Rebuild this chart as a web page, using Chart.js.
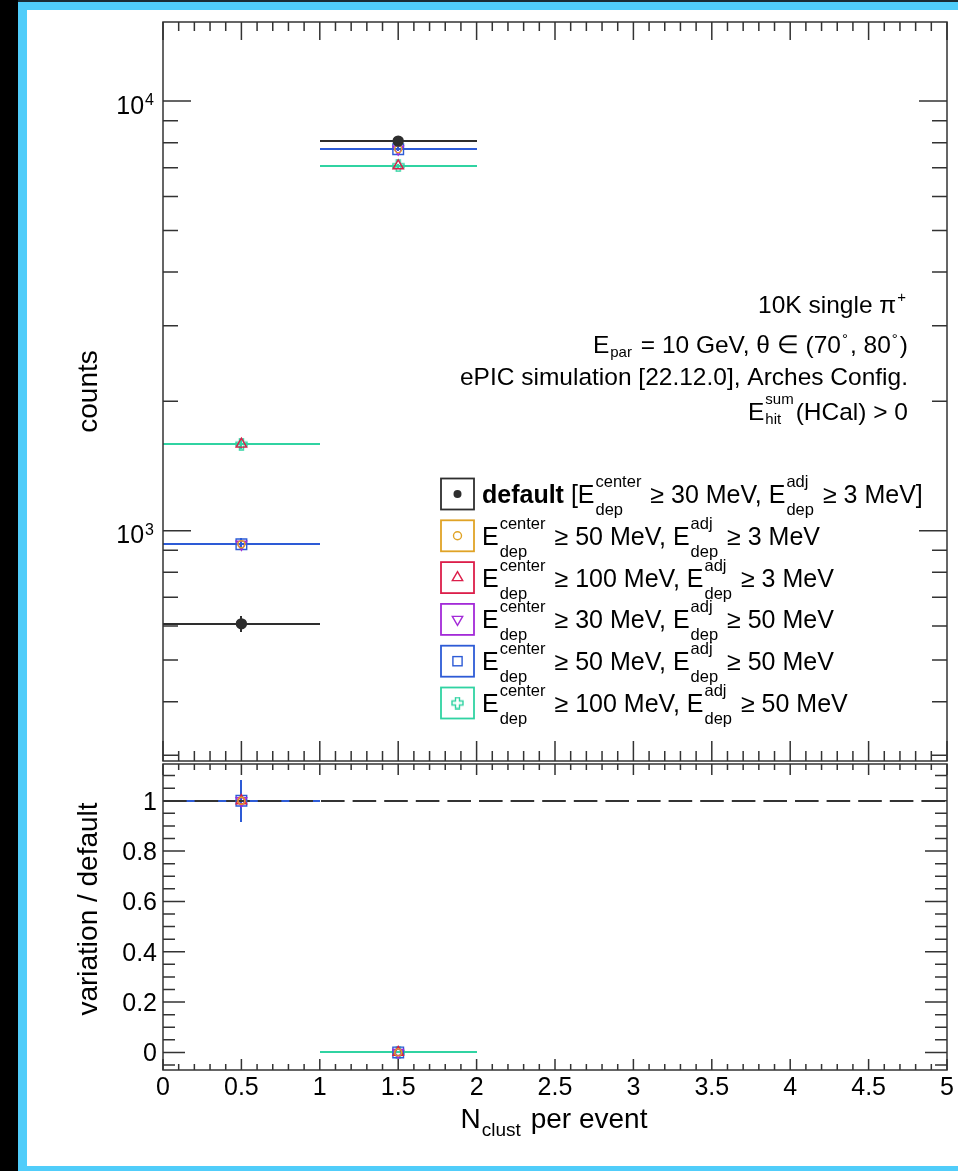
<!DOCTYPE html>
<html>
<head>
<meta charset="utf-8">
<script src="https://cdn.jsdelivr.net/npm/chart.js@4.4.1/dist/chart.umd.min.js"></script>
<style>
  html, body { margin: 0; padding: 0; background: #fff; }
  #page { position: relative; width: 958px; height: 1171px; background: #fff; overflow: hidden; }
  .edge { position: absolute; }
  canvas { position: absolute; left: 0; }
</style>
</head>
<body>
<div id="page">
  <div class="edge" style="left:0;top:0;width:18px;height:1171px;background:#000"></div>
  <div class="edge" style="left:18px;top:0;width:940px;height:2px;background:#1c2b33"></div>
  <div class="edge" style="left:18px;top:2px;width:940px;height:8px;background:#50cdfa"></div>
  <div class="edge" style="left:18px;top:2px;width:9px;height:1169px;background:#50cdfa"></div>
  <div class="edge" style="left:18px;top:1166px;width:940px;height:5px;background:#50cdfa"></div>
  <canvas id="top" width="958" height="763" style="top:0"></canvas>
  <canvas id="ratio" width="958" height="408" style="top:763px"></canvas>
</div>
<script>
// ------------------ data ------------------
// N_clust bins [0,1) and [1,2)
const binCenters = [0.5, 1.5];
const binLow = [0, 1];
const binHigh = [1, 2];

// counts per bin, one array per threshold setting
const countsDefault = [607, 8070];
const counts50_3 = [930, 7730];
const counts100_3 = [1590, 7070];
const counts30_50 = [930, 7730];
const counts50_50 = [930, 7730];
const counts100_50 = [1590, 7070];

const errDefault = [25, 90];
const err50_3 = [30, 88];
const err100_3 = [40, 84];
const err30_50 = [30, 88];
const err50_50 = [30, 88];
const err100_50 = [40, 84];

// variation / default
const ratio50_3 = [1, 0];
const ratio100_3 = [1, 0];
const ratio30_50 = [1, 0];
const ratio50_50 = [1, 0];
const ratio100_50 = [null, 0];
const ratioErr = [0.083, 0];

// axes
const xMajorTicks = [0, 0.5, 1, 1.5, 2, 2.5, 3, 3.5, 4, 4.5, 5];
const xTickLabels = ['0', '0.5', '1', '1.5', '2', '2.5', '3', '3.5', '4', '4.5', '5'];
const countDecades = [1000, 10000];
const countDecadeExp = ['3', '4'];
const ratioMajorTicks = [0, 0.2, 0.4, 0.6, 0.8, 1];
const ratioTickLabels = ['0', '0.2', '0.4', '0.6', '0.8', '1'];

const countsMin = 291, countsMax = 15280;
const ratioMin = -0.07, ratioMax = 1.146;

// ------------------ styles ------------------
const FONT = '"Liberation Sans", Arial, Helvetica, sans-serif';
const INK = '#333333';

function font(size, bold) { return (bold ? 'bold ' : '') + size + 'px ' + FONT; }

function openCross(color) {
  const s = 13, a = 4.5, b = 8.5, m = 1;
  const c = document.createElement('canvas');
  c.width = s; c.height = s;
  const g = c.getContext('2d');
  g.strokeStyle = color; g.lineWidth = 1.4;
  g.beginPath();
  g.moveTo(a, m); g.lineTo(b, m); g.lineTo(b, a); g.lineTo(s - m, a); g.lineTo(s - m, b);
  g.lineTo(b, b); g.lineTo(b, s - m); g.lineTo(a, s - m); g.lineTo(a, b); g.lineTo(m, b);
  g.lineTo(m, a); g.lineTo(a, a); g.closePath();
  g.stroke();
  return c;
}

const series = [
  { key: 'default', color: '#2e2e2e', counts: countsDefault, err: errDefault, ratio: null,
    marker: 'circle', radius: 5, filled: true, legendRadius: 4 },
  { key: '50_3', color: '#e0a326', counts: counts50_3, err: err50_3, ratio: ratio50_3,
    marker: 'circle', radius: 3.5, legendRadius: 4 },
  { key: '100_3', color: '#dc1e4a', counts: counts100_3, err: err100_3, ratio: ratio100_3,
    marker: 'triangle', radius: 6, legendRadius: 6 },
  { key: '30_50', color: '#a32ad8', counts: counts30_50, err: err30_50, ratio: ratio30_50,
    marker: 'triangle', rotation: 180, radius: 6, legendRadius: 6 },
  { key: '50_50', color: '#2d5bd6', counts: counts50_50, err: err50_50, ratio: ratio50_50,
    marker: 'rect', radius: 7.5, legendRadius: 6.5 },
  { key: '100_50', color: '#30d3a2', counts: counts100_50, err: err100_50, ratio: ratio100_50,
    marker: 'cross', radius: 6, legendRadius: 6 }
];
series.forEach(s => { if (s.marker === 'cross') s.image = openCross(s.color); });

// legend rows: plain strings, {b} = bold, {sup, sub} = stacked indices
const legendRows = [
  [{ b: 'default' }, ' [E', { sup: 'center', sub: 'dep' }, ' \u2265 30 MeV, E', { sup: 'adj', sub: 'dep' }, ' \u2265 3 MeV]'],
  ['E', { sup: 'center', sub: 'dep' }, ' \u2265 50 MeV, E', { sup: 'adj', sub: 'dep' }, ' \u2265 3 MeV'],
  ['E', { sup: 'center', sub: 'dep' }, ' \u2265 100 MeV, E', { sup: 'adj', sub: 'dep' }, ' \u2265 3 MeV'],
  ['E', { sup: 'center', sub: 'dep' }, ' \u2265 30 MeV, E', { sup: 'adj', sub: 'dep' }, ' \u2265 50 MeV'],
  ['E', { sup: 'center', sub: 'dep' }, ' \u2265 50 MeV, E', { sup: 'adj', sub: 'dep' }, ' \u2265 50 MeV'],
  ['E', { sup: 'center', sub: 'dep' }, ' \u2265 100 MeV, E', { sup: 'adj', sub: 'dep' }, ' \u2265 50 MeV']
];

const noteLines = [
  ['10K single \u03c0', { sup: '+', up: 11 }],
  ['E', { sub: 'par', down: 4 }, ' = 10 GeV, \u03b8 \u2208 (70', { sup: '\u00b0', up: 9 }, ', 80', { sup: '\u00b0', up: 9 }, ')'],
  ['ePIC simulation [22.12.0], Arches Config.'],
  ['E', { sup: 'sum', sub: 'hit', up: 16, down: 4 }, '(HCal) > 0']
];

// ------------------ text helpers ------------------
function layoutRich(ctx, parts, o) {
  let w = 0;
  const items = [];
  parts.forEach(p => {
    if (typeof p === 'string') {
      ctx.font = font(o.size);
      items.push({ t: p, x: w, bold: false });
      w += ctx.measureText(p).width;
    } else if (p.b) {
      ctx.font = font(o.size, true);
      items.push({ t: p.b, x: w, bold: true });
      w += ctx.measureText(p.b).width;
    } else {
      ctx.font = font(o.small);
      const a = p.sup ? ctx.measureText(p.sup).width : 0;
      const b = p.sub ? ctx.measureText(p.sub).width : 0;
      items.push({ sup: p.sup, sub: p.sub, x: w + 1,
        up: p.up != null ? p.up : o.up, down: p.down != null ? p.down : o.down });
      w += Math.max(a, b) + 3;
    }
  });
  return { items, w };
}

function drawRich(ctx, parts, x, y, o) {
  const L = layoutRich(ctx, parts, o);
  let x0 = x;
  if (o.align === 'right') x0 = x - L.w;
  else if (o.align === 'center') x0 = x - L.w / 2;
  ctx.save();
  ctx.fillStyle = o.color || '#000';
  ctx.textAlign = 'left';
  ctx.textBaseline = 'alphabetic';
  L.items.forEach(it => {
    if (it.t != null) {
      ctx.font = font(o.size, it.bold);
      ctx.fillText(it.t, x0 + it.x, y);
    } else {
      ctx.font = font(o.small);
      if (it.sup) ctx.fillText(it.sup, x0 + it.x, y - it.up);
      if (it.sub) ctx.fillText(it.sub, x0 + it.x, y + it.down);
    }
  });
  ctx.restore();
}

function drawMarker(ctx, s, x, y, r) {
  ctx.save();
  ctx.strokeStyle = s.color;
  ctx.fillStyle = s.color;
  ctx.lineWidth = 1.4;
  ctx.beginPath();
  if (s.marker === 'circle') {
    ctx.arc(x, y, r, 0, Math.PI * 2);
    if (s.filled) ctx.fill(); else ctx.stroke();
  } else if (s.marker === 'triangle') {
    const sgn = s.rotation ? -1 : 1;
    ctx.moveTo(x, y - sgn * r);
    ctx.lineTo(x + r * 0.866, y + sgn * r * 0.5);
    ctx.lineTo(x - r * 0.866, y + sgn * r * 0.5);
    ctx.closePath();
    ctx.stroke();
  } else if (s.marker === 'rect') {
    const h = r / Math.SQRT2;
    ctx.strokeRect(x - h, y - h, 2 * h, 2 * h);
  } else if (s.image) {
    ctx.drawImage(s.image, x - s.image.width / 2, y - s.image.height / 2);
  }
  ctx.restore();
}

// ------------------ axis helpers ------------------
function ticksX(ctx, xs, y, values, len, dir) {
  ctx.beginPath();
  values.forEach(v => {
    const px = xs.getPixelForValue(v);
    ctx.moveTo(px, y);
    ctx.lineTo(px, y + dir * len);
  });
  ctx.stroke();
}

function ticksY(ctx, ys, x, values, len, dir) {
  ctx.beginPath();
  values.forEach(v => {
    const py = ys.getPixelForValue(v);
    ctx.moveTo(x, py);
    ctx.lineTo(x + dir * len, py);
  });
  ctx.stroke();
}

const xMinorTicks = [];
for (let i = 1; i < 50; i++) if (i % 5 !== 0) xMinorTicks.push(i / 10);

const countMinorTicks = [];
[100, 1000, 10000].forEach(d => {
  for (let k = 2; k <= 9; k++) {
    const v = k * d;
    if (v > countsMin && v < countsMax) countMinorTicks.push(v);
  }
});

const ratioMinorTicks = [];
for (let i = -1; i <= 22; i++) {
  const v = i * 0.05;
  if (i % 4 !== 0 && v > ratioMin && v < ratioMax) ratioMinorTicks.push(v);
}

function drawFrame(ctx, a) {
  ctx.strokeRect(a.left, a.top, a.right - a.left, a.bottom - a.top);
}

// bin-width bars and error bars, snapped to whole pixels so later series cover earlier ones
function drawBars(ctx, xs, ys, values, errs, color, clipLow) {
  ctx.save();
  ctx.strokeStyle = color;
  ctx.lineWidth = 2;
  ctx.beginPath();
  binCenters.forEach((c, i) => {
    const v = values[i];
    if (v == null) return;
    const py = Math.round(ys.getPixelForValue(v));
    ctx.moveTo(Math.round(xs.getPixelForValue(binLow[i])), py);
    ctx.lineTo(Math.round(xs.getPixelForValue(binHigh[i])), py);
    const e = errs[i];
    if (e) {
      const px = Math.round(xs.getPixelForValue(c));
      ctx.moveTo(px, Math.round(ys.getPixelForValue(Math.max(v - e, clipLow))));
      ctx.lineTo(px, Math.round(ys.getPixelForValue(v + e)));
    }
  });
  ctx.stroke();
  ctx.restore();
}

function pointData(values) {
  return binCenters.map((x, i) => ({ x: x, y: values[i] })).filter(p => p.y != null);
}

function datasetFor(s, values) {
  return {
    data: pointData(values),
    pointStyle: s.image || s.marker,
    pointRotation: s.rotation || 0,
    pointRadius: s.radius,
    pointBorderWidth: 1.4,
    pointBorderColor: s.color,
    pointBackgroundColor: s.filled ? s.color : 'rgba(0,0,0,0)',
    showLine: false
  };
}

function baseOptions(ytype, ymin, ymax, pad) {
  return {
    responsive: false,
    animation: false,
    devicePixelRatio: 1,
    events: [],
    layout: { padding: pad, autoPadding: false },
    plugins: { legend: { display: false }, tooltip: { enabled: false } },
    scales: {
      x: { type: 'linear', min: 0, max: 5, display: false },
      y: { type: ytype, min: ymin, max: ymax, display: false }
    }
  };
}

// ------------------ counts pad ------------------
const countsPad = {
  id: 'countsPad',
  beforeDatasetsDraw(chart) {
    const ctx = chart.ctx, xs = chart.scales.x, ys = chart.scales.y;
    series.forEach(s => drawBars(ctx, xs, ys, s.counts, s.err, s.color, countsMin));
  },
  afterDatasetsDraw(chart) {
    const ctx = chart.ctx, xs = chart.scales.x, ys = chart.scales.y, a = chart.chartArea;
    ctx.save();
    ctx.strokeStyle = INK;
    ctx.lineWidth = 1.5;
    drawFrame(ctx, a);
    ticksX(ctx, xs, a.bottom, xMajorTicks, 20, -1);
    ticksX(ctx, xs, a.bottom, xMinorTicks, 10, -1);
    ticksX(ctx, xs, a.top, xMajorTicks, 18, 1);
    ticksX(ctx, xs, a.top, xMinorTicks, 9, 1);
    ticksY(ctx, ys, a.left, countDecades, 28, 1);
    ticksY(ctx, ys, a.left, countMinorTicks, 15, 1);
    ticksY(ctx, ys, a.right, countDecades, 28, -1);
    ticksY(ctx, ys, a.right, countMinorTicks, 15, -1);
    ctx.restore();

    // 10^n labels
    countDecades.forEach((v, i) => {
      const py = ys.getPixelForValue(v);
      drawRich(ctx, ['10', { sup: countDecadeExp[i] }], 156, py + 12.5,
        { size: 25, small: 16, up: 8.5, down: 0, align: 'right' });
    });

    // axis title
    ctx.save();
    ctx.fillStyle = '#000';
    ctx.font = font(28);
    ctx.translate(97, (a.top + a.bottom) / 2);
    ctx.rotate(-Math.PI / 2);
    ctx.textAlign = 'center';
    ctx.fillText('counts', 0, 0);
    ctx.restore();

    // run description
    const noteBase = [313, 353, 385, 420];
    noteLines.forEach((ln, i) => {
      drawRich(ctx, ln, 908, noteBase[i], { size: 24.5, small: 15, up: 16, down: 4, align: 'right' });
    });

    // legend
    const rowY0 = 494, rowStep = 41.8, boxL = 441, boxW = 33, boxH = 31;
    series.forEach((s, i) => {
      const cy = rowY0 + i * rowStep;
      ctx.save();
      ctx.strokeStyle = s.color;
      ctx.lineWidth = 1.8;
      ctx.strokeRect(boxL, cy - boxH / 2, boxW, boxH);
      ctx.restore();
      drawMarker(ctx, s, boxL + boxW / 2, cy, s.legendRadius);
      drawRich(ctx, legendRows[i], 482, cy + 9, { size: 25, small: 16.5, up: 16, down: 12, align: 'left' });
    });
  }
};

new Chart(document.getElementById('top'), {
  type: 'scatter',
  data: { datasets: series.map(s => datasetFor(s, s.counts)) },
  options: baseOptions('logarithmic', countsMin, countsMax, { left: 163, top: 22, right: 11, bottom: 2 }),
  plugins: [countsPad]
});

// ------------------ ratio pad ------------------
const ratioSeries = series.filter(s => s.ratio);

const ratioPad = {
  id: 'ratioPad',
  beforeDatasetsDraw(chart) {
    const ctx = chart.ctx, xs = chart.scales.x, ys = chart.scales.y, a = chart.chartArea;
    ratioSeries.forEach(s => drawBars(ctx, xs, ys, s.ratio, ratioErr, s.color, ratioMin));
    // unity reference line
    ctx.save();
    ctx.strokeStyle = INK;
    ctx.lineWidth = 2;
    ctx.setLineDash([23.6, 8]);
    ctx.beginPath();
    const py = Math.round(ys.getPixelForValue(1));
    ctx.moveTo(a.left, py);
    ctx.lineTo(a.right, py);
    ctx.stroke();
    ctx.restore();
  },
  afterDatasetsDraw(chart) {
    const ctx = chart.ctx, xs = chart.scales.x, ys = chart.scales.y, a = chart.chartArea;
    ctx.save();
    ctx.strokeStyle = INK;
    ctx.lineWidth = 1.5;
    drawFrame(ctx, a);
    ticksX(ctx, xs, a.bottom, xMajorTicks, 11, -1);
    ticksX(ctx, xs, a.bottom, xMinorTicks, 6, -1);
    ticksX(ctx, xs, a.top, xMajorTicks, 11, 1);
    ticksX(ctx, xs, a.top, xMinorTicks, 6, 1);
    ticksY(ctx, ys, a.left, ratioMajorTicks, 22, 1);
    ticksY(ctx, ys, a.left, ratioMinorTicks, 12, 1);
    ticksY(ctx, ys, a.right, ratioMajorTicks, 22, -1);
    ticksY(ctx, ys, a.right, ratioMinorTicks, 12, -1);
    ctx.restore();

    ctx.save();
    ctx.fillStyle = '#000';
    ctx.font = font(25);
    ctx.textAlign = 'right';
    ratioMajorTicks.forEach((v, i) => {
      ctx.fillText(ratioTickLabels[i], 157, ys.getPixelForValue(v) + 9);
    });
    ctx.textAlign = 'center';
    xMajorTicks.forEach((v, i) => {
      ctx.fillText(xTickLabels[i], xs.getPixelForValue(v), a.bottom + 25);
    });
    ctx.font = font(28);
    ctx.translate(97, (a.top + a.bottom) / 2 - 8);
    ctx.rotate(-Math.PI / 2);
    ctx.fillText('variation / default', 0, 0);
    ctx.restore();

    drawRich(ctx, ['N', { sub: 'clust' }, ' per event'], 554, a.bottom + 58,
      { size: 28, small: 19, up: 0, down: 8, align: 'center' });
  }
};

new Chart(document.getElementById('ratio'), {
  type: 'scatter',
  data: { datasets: ratioSeries.map(s => datasetFor(s, s.ratio)) },
  options: baseOptions('linear', ratioMin, ratioMax, { left: 163, top: 1, right: 11, bottom: 101 }),
  plugins: [ratioPad]
});
</script>
</body>
</html>
